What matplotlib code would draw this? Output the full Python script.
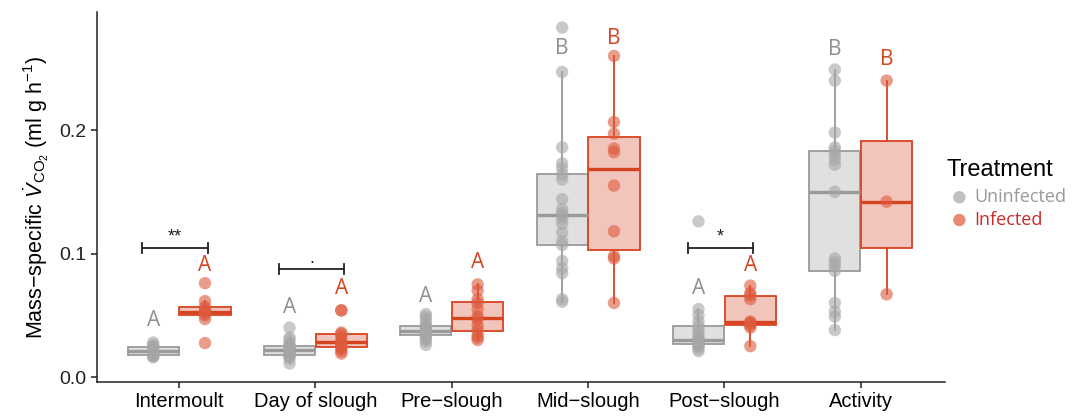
import matplotlib.pyplot as plt
import numpy as np

plt.rcParams['font.family'] = ['Liberation Sans', 'DejaVu Sans']
plt.rcParams['mathtext.fontset'] = 'custom'
plt.rcParams['mathtext.rm'] = 'Liberation Sans'
plt.rcParams['mathtext.it'] = 'Liberation Sans:italic'

stages = ['Intermoult', 'Day of slough', 'Pre\u2212slough', 'Mid\u2212slough', 'Post\u2212slough', 'Activity']

uninfected = [
    [0.016, 0.017, 0.017, 0.018, 0.020, 0.021, 0.022, 0.024, 0.025, 0.026, 0.028],
    [0.011, 0.015, 0.017, 0.017, 0.018, 0.019, 0.020, 0.021, 0.022, 0.023, 0.024,
     0.025, 0.025, 0.027, 0.030, 0.032, 0.040],
    [0.026, 0.029, 0.031, 0.033, 0.034, 0.035, 0.036, 0.037, 0.038, 0.039, 0.040,
     0.041, 0.043, 0.046, 0.049, 0.051],
    [0.061, 0.063, 0.084, 0.088, 0.094, 0.107, 0.110, 0.117, 0.124, 0.128, 0.131,
     0.133, 0.136, 0.144, 0.160, 0.164, 0.169, 0.173, 0.186, 0.247, 0.283],
    [0.021, 0.023, 0.025, 0.026, 0.027, 0.028, 0.029, 0.030, 0.030, 0.032, 0.035,
     0.038, 0.041, 0.045, 0.050, 0.055, 0.126],
    [0.038, 0.049, 0.053, 0.060, 0.086, 0.090, 0.093, 0.096, 0.150, 0.172, 0.176,
     0.180, 0.183, 0.186, 0.198, 0.240, 0.249],
]
infected = [
    [0.0275, 0.047, 0.050, 0.052, 0.053, 0.055, 0.057, 0.0615, 0.076],
    [0.019, 0.021, 0.023, 0.024, 0.026, 0.027, 0.028, 0.030, 0.033, 0.035, 0.036,
     0.054, 0.054],
    [0.030, 0.032, 0.034, 0.038, 0.042, 0.047, 0.049, 0.055, 0.060, 0.063, 0.070, 0.075],
    [0.060, 0.096, 0.098, 0.118, 0.155, 0.182, 0.185, 0.197, 0.2065, 0.260],
    [0.025, 0.040, 0.042, 0.043, 0.044, 0.045, 0.063, 0.066, 0.068, 0.074],
    [0.067, 0.142, 0.240],
]

# compact letter display
letters_u = ['A', 'A', 'A', 'B', 'A', 'B']
letters_i = ['A', 'A', 'A', 'B', 'A', 'B']
letter_y_u = [0.046, 0.0567, 0.0656, 0.266, 0.072, 0.2655]
letter_y_i = [0.0907, 0.072, 0.093, 0.274, 0.090, 0.257]

# significance between treatments
sig_stage = [0, 1, 4]
sig_label = ['**', '.', '*']
sig_y = [0.1045, 0.0875, 0.1045]

grey_edge = '#9a9a9a'
grey_fill = '#e0e0e0'
grey_pt = '#a6a6a6'
red_edge = '#d8431f'
red_fill = '#f2c5bc'
red_pt = '#dd5a3c'

fig = plt.figure(figsize=(10.84, 4.17), dpi=100)
ax = fig.add_axes([0.0895, 0.084, 0.7825, 0.887])

x = np.arange(1, len(stages) + 1)
off = 0.19
w = 0.375

for data, pos, edge, fill, pt in [(uninfected, x - off, grey_edge, grey_fill, grey_pt),
                                  (infected, x + off, red_edge, red_fill, red_pt)]:
    ax.boxplot(data, positions=pos, widths=w, patch_artist=True, showfliers=False,
               showcaps=False, whis=1.5, manage_ticks=False,
               boxprops=dict(facecolor=fill, edgecolor=edge, linewidth=1.3),
               whiskerprops=dict(color=edge, linewidth=1.3),
               medianprops=dict(color=edge, linewidth=2.4))
    for p, d in zip(pos, data):
        ax.scatter(np.full(len(d), p), d, s=80, color=pt, alpha=0.6,
                   edgecolors='none', zorder=4)

for i in range(len(stages)):
    ax.text(x[i] - off, letter_y_u[i], letters_u[i], color='#8e8e8e', fontsize=15,
            ha='center', va='center', family=['Open Sans', 'DejaVu Sans'])
    ax.text(x[i] + off, letter_y_i[i], letters_i[i], color=red_edge, fontsize=15,
            ha='center', va='center', family=['Open Sans', 'DejaVu Sans'])

for s, lab, yy in zip(sig_stage, sig_label, sig_y):
    x0, x1 = x[s] - 0.27, x[s] + 0.21
    ax.plot([x0, x1], [yy, yy], color='#222222', lw=1.3)
    ax.plot([x0, x0], [yy - 0.004, yy + 0.004], color='#222222', lw=1.3)
    ax.plot([x1, x1], [yy - 0.004, yy + 0.004], color='#222222', lw=1.3)
    ax.text((x0 + x1) / 2, yy + 0.002, lab, ha='center', va='bottom', fontsize=13,
            color='#222222')

ax.set_xlim(0.398, 6.62)
ax.set_ylim(-0.004, 0.2955)
ax.set_xticks(x)
ax.set_xticklabels(stages, fontsize=14.5)
ax.set_yticks([0.0, 0.1, 0.2])
ax.set_yticklabels(['0.0', '0.1', '0.2'], fontsize=14, color='#222222')
ax.tick_params(length=4, width=1.1, color='#222222')
for sp in ['top', 'right']:
    ax.spines[sp].set_visible(False)
for sp in ['left', 'bottom']:
    ax.spines[sp].set_linewidth(1.1)
    ax.spines[sp].set_color('#222222')
ax.set_ylabel('Mass\u2212specific $\\dot{V}_{\\mathrm{CO_2}}$ (ml g h$^{-1}$)', fontsize=15.5,
              labelpad=6)

# legend
fig.text(0.873, 0.592, 'Treatment', fontsize=17, va='center', ha='left')
fig.text(0.899, 0.527, 'Uninfected', fontsize=13, va='center', ha='left',
         color='#999999', family=['Open Sans', 'DejaVu Sans'])
fig.text(0.899, 0.472, 'Infected', fontsize=13, va='center', ha='left',
         color='#cc2a2a', family=['Open Sans', 'DejaVu Sans'])
lax = fig.add_axes([0.87, 0.44, 0.03, 0.12])
lax.set_xlim(0, 1)
lax.set_ylim(0, 1)
lax.axis('off')
lax.scatter([0.5, 0.5], [0.725, 0.27], s=80, color=[grey_pt, red_pt], alpha=0.7,
            edgecolors='none')

fig.savefig('out.png', dpi=100)
